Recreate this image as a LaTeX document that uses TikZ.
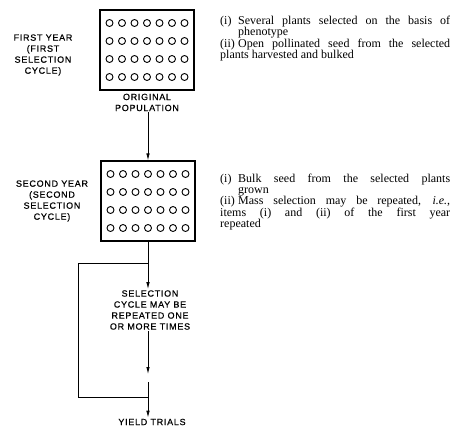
\documentclass[tikz,border=0pt]{standalone}
\usepackage{fontspec}
\setmainfont{Liberation Serif}
\newfontfamily\capsfont[LetterSpace=8,FakeBold=0.6]{Liberation Sans}
\usetikzlibrary{arrows.meta, positioning, calc}
\newcommand{\itm}[1]{\par\noindent\hangindent=18pt\hangafter=1\makebox[18pt][l]{#1}}

\begin{document}
\begin{tikzpicture}[x=1pt, y=-1pt,
    % plots of plants and the labels round them
    plot/.style={draw=black, line width=1.1pt, minimum width=94pt, minimum height=80pt, inner sep=0pt},
    plant/.style={draw=black, line width=0.9pt},
    caps/.style={font=\capsfont\fontsize{9}{11}\selectfont, align=center, inner sep=1pt},
    note/.style={font=\fontsize{12}{11}\selectfont, text width=230pt, align=justify,
                 inner sep=0pt, anchor=north west},
    arr/.style={-{Latex[length=7pt, width=3.5pt]}, line width=0.8pt},
    line/.style={line width=0.8pt}
]
\useasboundingbox (0,0) rectangle (463,433);

\def\dx{12.5} % column step of plants
\def\dy{18}   % row step of plants

% ===== FIRST YEAR =====
\node[plot] (box1) at (147,50) {};
\foreach \i in {0,...,6}
  \foreach \j in {0,...,3}
    \draw[plant] (box1.center) ++(-37.5+\dx*\i, -27+\dy*\j) circle (3.5pt);

\node[caps] (yr1) at (43,55) {FIRST YEAR\\(FIRST\\SELECTION\\CYCLE)};
\node[caps, below=2pt of box1] (orig) {ORIGINAL\\POPULATION};

\node[note] (n1) at (220,13) {\itm{(i)}Several plants selected on the basis of\linebreak phenotype
  \itm{(ii)}Open pollinated seed from the selected\linebreak plants harvested and bulked};

% ===== SECOND YEAR =====
\node[plot] (box2) at (148,201) {};
\foreach \i in {0,...,6}
  \foreach \j in {0,...,3}
    \draw[plant] (box2.center) ++(-37.5+\dx*\i, -27+\dy*\j) circle (3.5pt);

\node[caps] (yr2) at (52,201) {SECOND YEAR\\(SECOND\\SELECTION\\CYCLE)};

\node[note] (n2) at (220,171) {\itm{(i)}Bulk seed from the selected plants\linebreak grown
  \itm{(ii)}Mass selection may be repeated, \textit{i.e.},\linebreak items (i) and (ii) of the first year\linebreak repeated};

\draw[arr] (orig.south -| box2.north) -- (box2.north);

% ===== REPEATED CYCLES =====
\node[caps] (rep) at (150,310) {SELECTION\\CYCLE MAY BE\\REPEATED ONE\\OR MORE TIMES};
\node[caps] (yield) at (152,422) {YIELD TRIALS};

\coordinate (split) at (148,263);
\coordinate (join) at (148,397);
\coordinate (cut) at (148,374);
\coordinate (resume) at (148,382);

\draw[arr] (box2.south) -- (box2.south |- rep.north);
\draw[line] (split) -- ++(-70,0) |- (join);
\draw[arr] (rep.south -| cut) -- (cut);
\draw[arr] (resume) -- (yield.north -| resume);

\end{tikzpicture}
\end{document}
